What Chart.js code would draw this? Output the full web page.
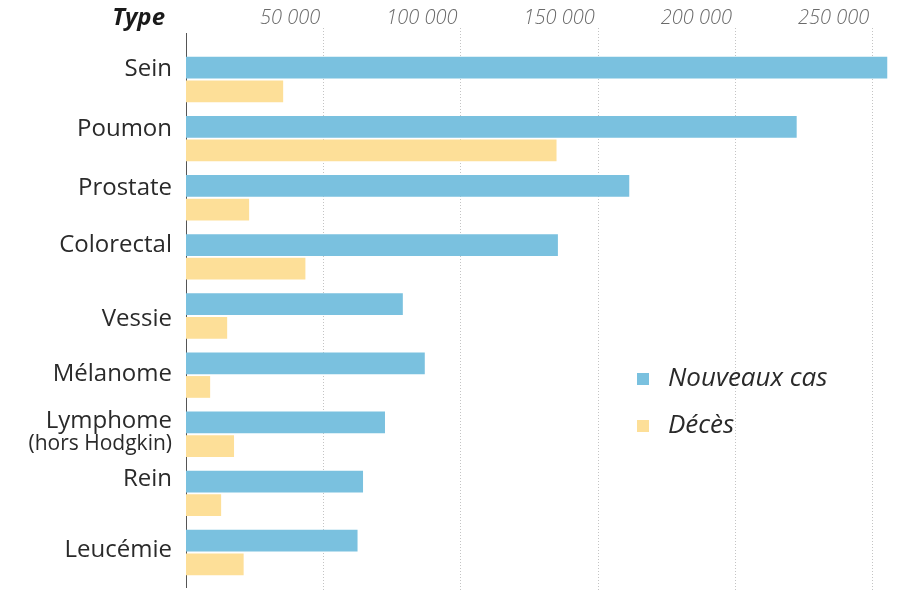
<!DOCTYPE html>
<html>
<head>
<meta charset="utf-8">
<script src="https://cdn.jsdelivr.net/npm/chart.js@4"></script>
<style>
  html, body { margin: 0; padding: 0; background: #fff; }
  #wrap { width: 897px; height: 590px; position: relative; }
</style>
</head>
<body>
<div id="wrap"><canvas id="c"></canvas></div>
<script>
// Cancer types and yearly counts
const categories = ['Sein', 'Poumon', 'Prostate', 'Colorectal', 'Vessie', 'Mélanome',
  ['Lymphome', '(hors Hodgkin)'], 'Rein', 'Leucémie'];
const nouveauxCas = [255500, 222500, 161500, 135500, 79000, 87000, 72500, 64500, 62500];
const deces = [35400, 135000, 23000, 43500, 15000, 8800, 17500, 12800, 21000];
const tickValues = [50000, 100000, 150000, 200000, 250000];
const seriesNames = ['Nouveaux cas', 'Décès'];

const BLUE = 'rgb(122,193,223)';
const YELLOW = 'rgb(253,223,152)';
const LABEL_FONT = '"Open Sans", "Noto Sans", sans-serif';

// Per-category vertical nudge of the row labels (px, relative to row centre)
const labelNudge = [-10, -10, -10, -12, 3, -1, -2, -14, -2];

const fmt = v => String(v).replace(/\B(?=(\d{3})+(?!\d))/g, ' ');

const decorations = {
  id: 'decorations',
  beforeDatasetsDraw(chart) {
    const { ctx, chartArea, scales: { x } } = chart;
    ctx.save();
    // dotted vertical gridlines
    ctx.strokeStyle = '#c4c4c4';
    ctx.lineWidth = 1;
    ctx.setLineDash([1, 2]);
    x.ticks.forEach(t => {
      const px = Math.round(x.getPixelForValue(t.value)) + 0.5;
      ctx.beginPath();
      ctx.moveTo(px, chartArea.top - 22);
      ctx.lineTo(px, chart.height);
      ctx.stroke();
    });
    ctx.setLineDash([]);
    // baseline at zero
    const x0 = Math.round(x.getPixelForValue(0)) + 0.5;
    ctx.strokeStyle = '#555';
    ctx.beginPath();
    ctx.moveTo(x0, chartArea.top - 17);
    ctx.lineTo(x0, chartArea.bottom + 6);
    ctx.stroke();
    ctx.restore();
  },
  afterDraw(chart) {
    const { ctx, scales: { x, y } } = chart;
    ctx.save();
    // header
    ctx.fillStyle = '#1a1a1a';
    ctx.font = 'italic bold 24px ' + LABEL_FONT;
    ctx.textAlign = 'right';
    ctx.textBaseline = 'middle';
    ctx.fillText('Type', 165, 18);
    // row labels
    const labelRight = x.getPixelForValue(0) - 14;
    ctx.fillStyle = '#2a2a2a';
    chart.data.labels.forEach((lab, i) => {
      const cy = y.getPixelForValue(i) + labelNudge[i];
      ctx.font = '24px ' + LABEL_FONT;
      if (Array.isArray(lab)) {
        ctx.fillText(lab[0], labelRight, cy - 11);
        ctx.font = '21px ' + LABEL_FONT;
        ctx.fillText(lab[1], labelRight, cy + 12);
      } else {
        ctx.fillText(lab, labelRight, cy);
      }
    });
    // legend
    const lx = 637, ly = 379, gap = 47;
    chart.data.datasets.forEach((ds, i) => {
      const cy = ly + i * gap;
      ctx.fillStyle = ds.backgroundColor;
      ctx.fillRect(lx, cy - 6, 12, 12);
      ctx.fillStyle = '#2a2a2a';
      ctx.font = 'italic 26px ' + LABEL_FONT;
      ctx.textAlign = 'left';
      ctx.fillText(ds.label, lx + 31, cy);
    });
    ctx.restore();
  }
};

new Chart(document.getElementById('c'), {
  type: 'bar',
  data: {
    labels: categories,
    datasets: [
      { label: seriesNames[0], data: nouveauxCas, backgroundColor: BLUE },
      { label: seriesNames[1], data: deces, backgroundColor: YELLOW }
    ]
  },
  options: {
    indexAxis: 'y',
    responsive: true,
    maintainAspectRatio: false,
    animation: false,
    layout: { padding: { left: 186, right: 7, top: 0, bottom: 8 } },
    datasets: { bar: { categoryPercentage: 0.8, barPercentage: 0.92 } },
    plugins: { legend: { display: false }, tooltip: { enabled: false } },
    scales: {
      x: {
        position: 'top',
        min: 0,
        max: 256500,
        afterBuildTicks: s => { s.ticks = tickValues.map(v => ({ value: v })); },
        afterFit: s => { s.height = 50; },
        grid: { display: false, drawTicks: false },
        border: { display: false },
        ticks: {
          align: 'end',
          labelOffset: -3,
          padding: 20,
          color: '#6a6a6a',
          font: { family: LABEL_FONT, size: 20, style: 'italic', weight: 300 },
          callback: v => fmt(v)
        }
      },
      y: {
        display: false,
        grid: { display: false }
      }
    }
  },
  plugins: [decorations]
});
</script>
</body>
</html>
